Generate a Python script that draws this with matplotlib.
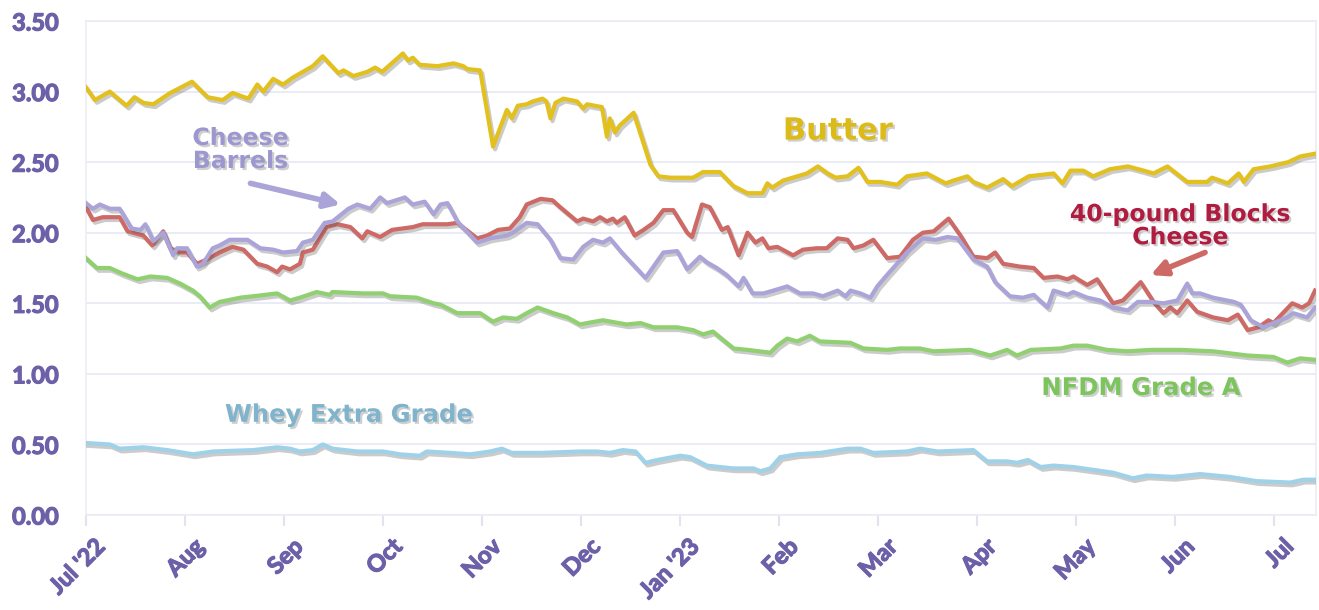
import matplotlib
matplotlib.use("Agg")
import matplotlib.pyplot as plt
import matplotlib.patheffects as pe
import matplotlib.transforms as mtransforms
import numpy as np

# x positions are expressed in months since Jul 1 2022 (month ticks equally spaced)
month_labels = ["Jul '22", "Aug", "Sep", "Oct", "Nov", "Dec", "Jan '23", "Feb", "Mar",
                "Apr", "May", "Jun", "Jul"]
y_ticks = [0.0, 0.5, 1.0, 1.5, 2.0, 2.5, 3.0, 3.5]

butter_t = [0.00, 0.09, 0.24, 0.41, 0.49, 0.58, 0.68, 0.85, 1.07, 1.23, 1.38, 1.48, 1.64, 1.73,
            1.79, 1.89, 1.99, 2.09, 2.29, 2.39, 2.55, 2.60, 2.70, 2.84, 2.92, 2.99, 3.20, 3.25,
            3.30, 3.37, 3.55, 3.71, 3.81, 3.85, 3.98, 4.11, 4.25, 4.30, 4.36, 4.45, 4.51, 4.61,
            4.65, 4.69, 4.74, 4.82, 4.96, 5.02, 5.06, 5.21, 5.26, 5.29, 5.34, 5.39, 5.53, 5.70,
            5.78, 5.90, 6.13, 6.23, 6.40, 6.54, 6.68, 6.83, 6.88, 6.93, 7.04, 7.28, 7.39, 7.49,
            7.57, 7.69, 7.80, 7.89, 8.02, 8.19, 8.29, 8.49, 8.68, 8.76, 8.90, 8.96, 9.10, 9.26,
            9.35, 9.52, 9.77, 9.86, 9.94, 10.07, 10.17, 10.34, 10.52, 10.68, 10.78, 10.92, 11.12,
            11.32, 11.37, 11.53, 11.64, 11.69, 11.79, 11.96, 12.14, 12.26, 12.41]
butter_v = [3.03, 2.94, 3.00, 2.90, 2.96, 2.92, 2.91, 2.99, 3.07, 2.96, 2.94, 2.99, 2.95, 3.05,
            3.00, 3.09, 3.05, 3.10, 3.18, 3.25, 3.13, 3.15, 3.11, 3.14, 3.17, 3.14, 3.27, 3.22,
            3.24, 3.19, 3.18, 3.20, 3.18, 3.16, 3.15, 2.61, 2.87, 2.81, 2.90, 2.91, 2.93, 2.95,
            2.93, 2.81, 2.92, 2.95, 2.93, 2.88, 2.91, 2.89, 2.68, 2.81, 2.71, 2.76, 2.85, 2.48,
            2.40, 2.39, 2.39, 2.43, 2.43, 2.33, 2.28, 2.28, 2.35, 2.32, 2.37, 2.42, 2.47, 2.42,
            2.39, 2.40, 2.46, 2.36, 2.36, 2.34, 2.40, 2.42, 2.35, 2.37, 2.40, 2.36, 2.32, 2.38,
            2.33, 2.40, 2.42, 2.35, 2.44, 2.44, 2.40, 2.45, 2.47, 2.44, 2.42, 2.47, 2.36,
            2.36, 2.39, 2.35, 2.42, 2.36, 2.45, 2.47, 2.50, 2.54, 2.56]

barrels_t = [0.00, 0.07, 0.14, 0.24, 0.34, 0.46, 0.55, 0.60, 0.68, 0.78, 0.88, 0.92, 1.02, 1.12,
             1.18, 1.28, 1.35, 1.45, 1.63, 1.76, 1.89, 1.99, 2.13, 2.19, 2.29, 2.41, 2.49, 2.65,
             2.74, 2.87, 2.97, 3.04, 3.22, 3.30, 3.42, 3.51, 3.58, 3.65, 3.75, 3.95, 4.08, 4.25,
             4.31, 4.45, 4.56, 4.69, 4.79, 4.92, 5.02, 5.12, 5.22, 5.29, 5.41, 5.53, 5.65, 5.83,
             5.97, 6.07, 6.20, 6.27, 6.37, 6.47, 6.59, 6.64, 6.73, 6.84, 6.94, 7.08, 7.21, 7.34,
             7.44, 7.59, 7.67, 7.72, 7.82, 7.92, 7.99, 8.10, 8.29, 8.45, 8.58, 8.70, 8.80, 8.96,
             9.10, 9.18, 9.33, 9.46, 9.57, 9.71, 9.77, 9.91, 9.97, 10.11, 10.24, 10.37, 10.52,
             10.62, 10.75, 10.88, 11.02, 11.12, 11.17, 11.25, 11.38, 11.59, 11.66, 11.76, 11.89,
             11.99, 12.13, 12.19, 12.33, 12.41]
barrels_v = [2.21, 2.17, 2.20, 2.17, 2.17, 2.03, 2.02, 2.06, 1.94, 2.00, 1.84, 1.89, 1.89, 1.76,
             1.78, 1.89, 1.91, 1.95, 1.95, 1.89, 1.88, 1.86, 1.87, 1.93, 1.95, 2.07, 2.08, 2.17,
             2.20, 2.17, 2.25, 2.21, 2.25, 2.20, 2.22, 2.13, 2.20, 2.21, 2.08, 1.93, 1.96, 1.98,
             2.00, 2.07, 2.06, 1.95, 1.82, 1.81, 1.90, 1.95, 1.93, 1.96, 1.86, 1.77, 1.68, 1.86,
             1.87, 1.74, 1.83, 1.79, 1.75, 1.70, 1.62, 1.68, 1.57, 1.57, 1.59, 1.62, 1.57, 1.57,
             1.55, 1.59, 1.55, 1.59, 1.57, 1.54, 1.62, 1.71, 1.86, 1.96, 1.95, 1.97, 1.96, 1.81,
             1.76, 1.65, 1.55, 1.54, 1.56, 1.47, 1.59, 1.56, 1.58, 1.54, 1.52, 1.47, 1.45,
             1.51, 1.51, 1.50, 1.52, 1.64, 1.57, 1.57, 1.54, 1.51, 1.49, 1.38, 1.33,
             1.36, 1.40, 1.43, 1.40, 1.47]

blocks_t = [0.00, 0.07, 0.17, 0.34, 0.42, 0.58, 0.67, 0.78, 0.85, 0.95, 1.02, 1.12, 1.22, 1.35,
            1.48, 1.59, 1.73, 1.83, 1.93, 1.98, 2.06, 2.16, 2.19, 2.29, 2.36, 2.43, 2.54, 2.67,
            2.79, 2.84, 2.97, 3.09, 3.30, 3.40, 3.65, 3.75, 3.95, 4.05, 4.16, 4.28, 4.38, 4.45,
            4.59, 4.71, 4.79, 4.96, 5.02, 5.12, 5.19, 5.26, 5.32, 5.36, 5.44, 5.54, 5.63, 5.73,
            5.83, 5.93, 6.07, 6.12, 6.22, 6.30, 6.42, 6.48, 6.59, 6.68, 6.76, 6.83, 6.89, 6.98,
            7.14, 7.24, 7.38, 7.48, 7.59, 7.69, 7.75, 7.85, 7.95, 8.09, 8.22, 8.35, 8.45, 8.56,
            8.71, 8.83, 8.96, 9.10, 9.18, 9.26, 9.43, 9.57, 9.67, 9.81, 9.91, 9.97, 10.11, 10.21,
            10.37, 10.47, 10.65, 10.78, 10.88, 10.95, 11.02, 11.12, 11.22, 11.38, 11.53, 11.63,
            11.73, 11.84, 11.94, 11.99, 12.18, 12.28, 12.35, 12.41]
blocks_v = [2.18, 2.09, 2.11, 2.11, 2.01, 1.98, 1.91, 2.01, 1.89, 1.86, 1.86, 1.78, 1.81, 1.86,
            1.90, 1.88, 1.78, 1.76, 1.72, 1.76, 1.74, 1.78, 1.86, 1.88, 1.96, 2.04, 2.06, 2.04,
            1.96, 2.01, 1.97, 2.02, 2.04, 2.06, 2.06, 2.07, 1.96, 1.98, 2.02, 2.03, 2.11, 2.20,
            2.24, 2.23, 2.18, 2.08, 2.10, 2.08, 2.11, 2.08, 2.10, 2.07, 2.11, 1.98, 2.02, 2.07,
            2.16, 2.16, 2.00, 1.97, 2.20, 2.18, 2.02, 2.04, 1.84, 2.00, 1.93, 1.96, 1.89, 1.90,
            1.84, 1.88, 1.89, 1.89, 1.96, 1.95, 1.89, 1.91, 1.95, 1.82, 1.83, 1.95, 2.00, 2.01,
            2.10, 1.98, 1.83, 1.82, 1.86, 1.78, 1.76, 1.75, 1.68, 1.69, 1.67, 1.69, 1.63, 1.67,
            1.50, 1.52, 1.65, 1.51, 1.43, 1.47, 1.43, 1.52, 1.44, 1.40, 1.38, 1.42,
            1.31, 1.33, 1.38, 1.36, 1.50, 1.47, 1.50, 1.59]

nfdm_t = [0.00, 0.11, 0.24, 0.37, 0.52, 0.65, 0.82, 0.95, 1.08, 1.15, 1.25, 1.35, 1.56, 1.69,
          1.93, 2.06, 2.16, 2.33, 2.46, 2.49, 2.80, 3.00, 3.07, 3.34, 3.51, 3.58, 3.75, 3.98,
          4.11, 4.21, 4.35, 4.45, 4.56, 4.72, 4.86, 4.99, 5.06, 5.22, 5.46, 5.60, 5.73, 5.97,
          6.13, 6.23, 6.33, 6.54, 6.68, 6.91, 6.98, 7.08, 7.18, 7.31, 7.41, 7.72, 7.85, 8.09,
          8.22, 8.42, 8.56, 8.93, 9.13, 9.30, 9.40, 9.54, 9.84, 9.97, 10.11, 10.31, 10.52, 10.75,
          11.05, 11.38, 11.73, 11.99, 12.13, 12.26, 12.41]
nfdm_v = [1.82, 1.75, 1.75, 1.71, 1.67, 1.69, 1.68, 1.64, 1.59, 1.55, 1.47, 1.51, 1.54, 1.55,
          1.57, 1.52, 1.54, 1.58, 1.56, 1.58, 1.57, 1.57, 1.55, 1.54, 1.50, 1.49, 1.43, 1.43,
          1.37, 1.40, 1.39, 1.43, 1.47, 1.43, 1.40, 1.35, 1.36, 1.38, 1.35, 1.36, 1.33, 1.33,
          1.31, 1.28, 1.30, 1.18, 1.17, 1.15, 1.20, 1.25, 1.23, 1.27, 1.23, 1.22, 1.18, 1.17,
          1.18, 1.18, 1.16, 1.17, 1.13, 1.17, 1.13, 1.17, 1.18, 1.20, 1.20, 1.17, 1.16, 1.17,
          1.17, 1.16, 1.13, 1.12, 1.08, 1.11, 1.10]

whey_t = [0.00, 0.24, 0.34, 0.58, 0.82, 1.08, 1.28, 1.69, 1.93, 2.06, 2.16, 2.29, 2.39, 2.49,
          2.74, 3.00, 3.17, 3.37, 3.44, 3.68, 3.88, 4.08, 4.20, 4.30, 4.59, 4.99, 5.16, 5.29,
          5.42, 5.55, 5.65, 5.77, 6.00, 6.10, 6.27, 6.40, 6.54, 6.74, 6.81, 6.91, 7.01, 7.18,
          7.41, 7.69, 7.82, 7.95, 8.29, 8.42, 8.60, 8.96, 9.10, 9.30, 9.40, 9.51, 9.64, 9.77,
          9.97, 10.17, 10.37, 10.57, 10.71, 10.98, 11.25, 11.55, 11.82, 12.16, 12.29, 12.41]
whey_v = [0.51, 0.50, 0.47, 0.48, 0.46, 0.43, 0.45, 0.46, 0.48, 0.47, 0.45, 0.46, 0.50, 0.47,
          0.45, 0.45, 0.43, 0.42, 0.45, 0.44, 0.43, 0.45, 0.47, 0.44, 0.44, 0.45, 0.45, 0.44,
          0.46, 0.45, 0.37, 0.39, 0.42, 0.41, 0.35, 0.34, 0.33, 0.33, 0.31, 0.33, 0.41, 0.43,
          0.44, 0.47, 0.47, 0.44, 0.45, 0.47, 0.45, 0.46, 0.38, 0.38, 0.37, 0.39, 0.34, 0.35,
          0.34, 0.32, 0.30, 0.26, 0.28, 0.27, 0.29, 0.27, 0.24, 0.23, 0.25, 0.25]

C_BUTTER = "#e2c01e"
C_BLOCKS = "#cd6a66"
C_BARRELS = "#aaa4d8"
C_NFDM = "#90d070"
C_WHEY = "#9fd2e8"
C_TICK = "#6c60a8"

fig = plt.figure(figsize=(13.19, 6.10), dpi=100)
ax = fig.add_axes([86 / 1319, 1 - 515 / 610, (1316 - 86) / 1319, (515 - 21) / 610])

line_fx = [pe.SimpleLineShadow(offset=(1.5, -2), shadow_color="#555555", alpha=0.3),
           pe.Normal()]
series = [(whey_t, whey_v, C_WHEY), (nfdm_t, nfdm_v, C_NFDM),
          (blocks_t, blocks_v, C_BLOCKS), (barrels_t, barrels_v, C_BARRELS),
          (butter_t, butter_v, C_BUTTER)]
for t, v, c in series:
    assert len(t) == len(v)
    ax.plot(t, v, color=c, lw=3.0, solid_joinstyle="round", path_effects=line_fx, zorder=3)

ax.set_xlim(0, 12.42)
ax.set_ylim(0, 3.5)
ax.set_yticks(y_ticks)
ax.set_yticklabels([f"{v:.2f}" for v in y_ticks])
ax.set_xticks(np.arange(len(month_labels)))
ax.set_xticklabels(month_labels, rotation=45, ha="right", va="top", rotation_mode="anchor")
ax.grid(axis="y", color="#e8e8f3", lw=1.2, zorder=0)
ax.tick_params(axis="y", length=0, pad=19.5, labelsize=17, labelcolor=C_TICK)
ax.tick_params(axis="x", length=8, width=1.5, color="#e2e2f0", pad=6, labelsize=17,
               labelcolor=C_TICK)
shift = mtransforms.ScaledTranslation(7 / 100, 0, fig.dpi_scale_trans)
tick_fx = [pe.withStroke(linewidth=0.9, foreground=C_TICK)]
for lab in ax.get_xticklabels():
    lab.set_fontweight("bold")
    lab.set_fontfamily("Lato")
    lab.set_path_effects(tick_fx)
    lab.set_transform(lab.get_transform() + shift)
for lab in ax.get_yticklabels():
    lab.set_fontweight("bold")
    lab.set_fontfamily("Lato")
    lab.set_path_effects(tick_fx)
for s in ["left", "right", "top", "bottom"]:
    ax.spines[s].set_color("#ececf5")
    ax.spines[s].set_linewidth(1.2)

txt_fx = [pe.withSimplePatchShadow(offset=(1.5, -1.5), shadow_rgbFace="#777777", alpha=0.35)]

ax.text(7.59, 2.72, "Butter", color="#dcbb18", fontsize=22, fontweight="bold",
        ha="center", va="center", path_effects=txt_fx, zorder=5)
ax.text(1.56, 2.59, "Cheese\nBarrels", color="#9d97cf", fontsize=17, fontweight="bold",
        ha="center", va="center", linespacing=0.95, path_effects=txt_fx, zorder=5)
ax.annotate("", xy=(2.57, 2.20), xytext=(1.66, 2.35),
            arrowprops=dict(arrowstyle="-|>,head_length=0.9,head_width=0.45", color=C_BARRELS,
                            lw=4, shrinkA=0, shrinkB=0), zorder=5)
ax.text(11.05, 2.05, "40-pound Blocks\nCheese", color="#b01c40", fontsize=17,
        fontweight="bold", ha="center", va="center", linespacing=0.95,
        path_effects=txt_fx, zorder=5)
ax.annotate("", xy=(10.75, 1.70), xytext=(11.30, 1.86),
            arrowprops=dict(arrowstyle="-|>,head_length=0.9,head_width=0.45", color=C_BLOCKS,
                            lw=4, shrinkA=0, shrinkB=0), zorder=5)
ax.text(10.65, 0.90, "NFDM Grade A", color="#7cc45c", fontsize=17.5, fontweight="bold",
        ha="center", va="center", path_effects=txt_fx, zorder=5)
ax.text(2.65, 0.71, "Whey Extra Grade", color="#80b4cd", fontsize=17.5, fontweight="bold",
        ha="center", va="center", path_effects=txt_fx, zorder=5)

fig.savefig("out.png", dpi=100)
